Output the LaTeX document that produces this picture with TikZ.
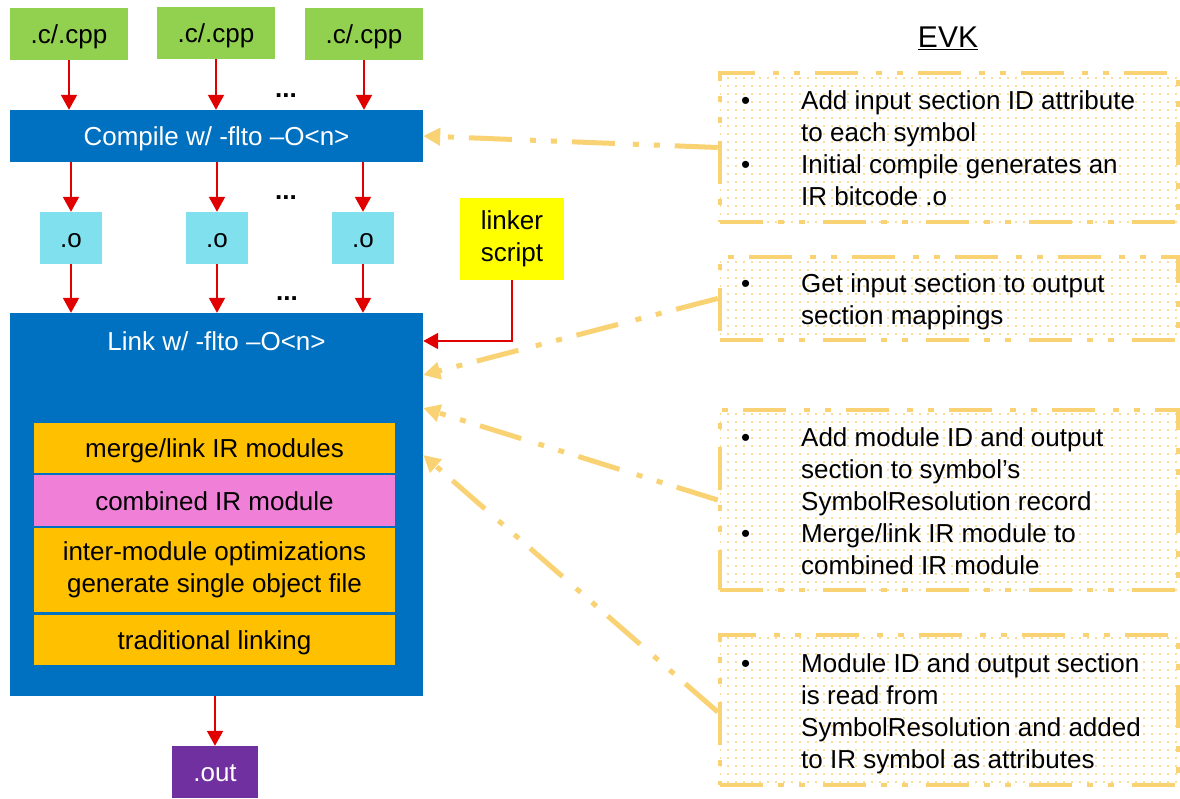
\documentclass[tikz,border=0pt]{standalone}
\usepackage{fontspec}
\setmainfont{Liberation Sans}
\usetikzlibrary{arrows.meta,patterns.meta}
\definecolor{gblue}{HTML}{0070C0}
\definecolor{ggreen}{HTML}{92D050}
\definecolor{gcyan}{HTML}{80E0EE}
\definecolor{gyellow}{HTML}{FFFF00}
\definecolor{gorange}{HTML}{FFC000}
\definecolor{gpink}{HTML}{F07FD8}
\definecolor{gpurple}{HTML}{7030A0}
\definecolor{gred}{HTML}{E00000}
\definecolor{evky}{HTML}{F9D274}
\tikzset{
  box/.style={rectangle, inner sep=0pt, font=\fontsize{26}{32}\selectfont, align=center},
  one/.style={text height=19pt, text depth=0pt},
  redarrow/.style={draw=gred, line width=2pt, -{Triangle[length=15pt,width=16pt]}},
  dashdd/.style={dash pattern=on 43pt off 15pt on 6pt off 15pt on 6pt off 18pt},
  callout/.style={rectangle, inner sep=0pt, draw=evky, line width=4.5pt, dashdd,
     pattern={Dots[distance=8pt,radius=1.1pt]}, pattern color=evky},
  callarrow/.style={draw=evky, line width=5pt, dashdd, -{Triangle[length=17pt,width=17pt]}},
  calltext/.style={anchor=west, inner sep=0pt, font=\fontsize{26}{32}\selectfont},
  ell/.style={font=\fontsize{26}{30}\selectfont\bfseries, anchor=base, inner sep=0pt}
}
\begin{document}
\begin{tikzpicture}[x=1pt,y=-1pt]
\useasboundingbox (0,0) rectangle (1180,798);
% sources
\node[box, one, fill=ggreen, minimum width=118pt, minimum height=52pt] (g1) at (69,34) {.c/.cpp};
\node[box, one, fill=ggreen, minimum width=118pt, minimum height=52pt] (g2) at (216,33) {.c/.cpp};
\node[box, one, fill=ggreen, minimum width=118pt, minimum height=52pt] (g3) at (364,34) {.c/.cpp};
% compile
\node[box, one, fill=gblue, text=white, minimum width=413pt, minimum height=52pt] (compile) at (216.5,136) {Compile w/ -flto –O<n>};
% objects
\node[box, one, fill=gcyan, minimum width=62pt, minimum height=52pt] (o1) at (71,238) {.o};
\node[box, one, fill=gcyan, minimum width=62pt, minimum height=52pt] (o2) at (217,238) {.o};
\node[box, one, fill=gcyan, minimum width=62pt, minimum height=52pt] (o3) at (363,238) {.o};
% link
\node[box, fill=gblue, minimum width=413pt, minimum height=383pt] (link) at (216.5,504.5) {};
\node[box, one, text=white] (linklbl) at (216.5,341) {Link w/ -flto –O<n>};
\node[box, one, fill=gorange, draw=gblue, line width=1.2pt, minimum width=363pt, minimum height=52pt] (merge) at (214.5,448) {merge/link IR modules};
\node[box, one, fill=gpink, draw=gblue, line width=1.2pt, minimum width=363pt, minimum height=52pt] (comb) at (214.5,500.5) {combined IR module};
\node[box, fill=gorange, draw=gblue, line width=1.2pt, minimum width=363pt, minimum height=86pt] (inter) at (214.5,570) {\raisebox{-3pt}{\begin{tabular}{@{}c@{}}inter-module optimizations\\generate single object file\end{tabular}}};
\node[box, one, fill=gorange, draw=gblue, line width=1.2pt, minimum width=363pt, minimum height=52pt] (trad) at (214.5,640) {traditional linking};
% out
\node[box, one, fill=gpurple, text=white, minimum width=86pt, minimum height=52pt] (out) at (215,772) {.out};
% linker script
\node[box, fill=gyellow, minimum width=104pt, minimum height=82pt] (ls) at (512,239) {\raisebox{-3pt}{\begin{tabular}{@{}c@{}}linker\\script\end{tabular}}};
% ellipses
\node[ell] (e1) at (286,97) {...};
\node[ell] (e2) at (286,199) {...};
\node[ell] (e3) at (287,300) {...};
% red arrows
\draw[redarrow] (g1.south) -- (g1.south |- compile.north);
\draw[redarrow] (g2.south) -- (g2.south |- compile.north);
\draw[redarrow] (g3.south) -- (g3.south |- compile.north);
\draw[redarrow] (compile.south -| o1) -- (o1.north -| o1);
\draw[redarrow] (compile.south -| o2) -- (o2.north -| o2);
\draw[redarrow] (compile.south -| o3) -- (o3.north -| o3);
\draw[redarrow] (o1.south) -- (o1.south |- link.north);
\draw[redarrow] (o2.south) -- (o2.south |- link.north);
\draw[redarrow] (o3.south) -- (o3.south |- link.north);
\draw[redarrow] (ls.south) |- (link.east |- linklbl);
\draw[redarrow] (link.south -| out) -- (out.north);
% EVK
\node[font=\fontsize{30}{34}\selectfont, inner sep=0pt] (evk) at (948,38) {\underline{EVK}};
% callouts
\node[callout, minimum width=458pt, minimum height=149pt] (cb1) at (949,147.5) {};
\node[callout, minimum width=458pt, minimum height=83pt] (cb2) at (949,298.5) {};
\node[callout, minimum width=458pt, minimum height=180pt] (cb3) at (949,500) {};
\node[callout, minimum width=458pt, minimum height=150pt] (cb4) at (949,710) {};
\node[calltext] (t1) at (741,151.5) {\begin{tabular}{@{}p{60pt}@{}l@{}}
•&Add input section ID attribute\\
 &to each symbol\\
•&Initial compile generates an\\
 &IR bitcode .o\end{tabular}};
\node[calltext] (t2) at (741,302.5) {\begin{tabular}{@{}p{60pt}@{}l@{}}
•&Get input section to output\\
 &section mappings\end{tabular}};
\node[calltext] (t3) at (741,504.5) {\begin{tabular}{@{}p{60pt}@{}l@{}}
•&Add module ID and output\\
 &section to symbol’s\\
 &SymbolResolution record\\
•&Merge/link IR module to\\
 &combined IR module\end{tabular}};
\node[calltext] (t4) at (741,714.5) {\begin{tabular}{@{}p{60pt}@{}l@{}}
•&Module ID and output section\\
 &is read from\\
 &SymbolResolution and added\\
 &to IR symbol as attributes\end{tabular}};
% callout arrows
\draw[callarrow] (cb1.west) -- (compile.east);
\draw[callarrow] (cb2.west) -- ([yshift=129.5pt]link.east);
\draw[callarrow] (cb3.west) -- ([yshift=96.5pt]link.east);
\draw[callarrow] ([yshift=-2pt]cb4.west) -- ([yshift=49.5pt]link.east);
\end{tikzpicture}
\end{document}
